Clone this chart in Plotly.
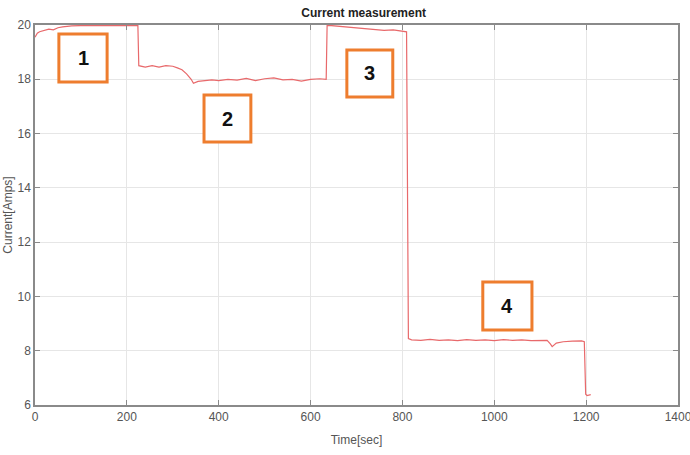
import plotly.graph_objects as go

# Measured current trace
time_sec = [0, 5, 10, 20, 30, 40, 50, 60, 70, 80, 100, 150, 224, 226, 240, 255, 270, 285,
            300, 310, 320, 330, 340, 345, 355, 370, 385, 400, 420, 440, 460, 480, 500,
            520, 540, 560, 580, 600, 620, 634, 636, 645, 660, 680, 700, 720, 740, 760,
            780, 800, 809, 813, 820, 840, 860, 880, 900, 920, 940, 960, 980, 1000, 1020,
            1040, 1060, 1080, 1100, 1115, 1122, 1126, 1135, 1150, 1170, 1190, 1196,
            1199, 1202, 1210]
current_amps = [19.55, 19.7, 19.75, 19.8, 19.85, 19.82, 19.9, 19.93, 19.96, 19.97, 19.98,
                19.98, 19.98, 18.5, 18.45, 18.5, 18.45, 18.5, 18.48, 18.42, 18.35, 18.2,
                18.0, 17.85, 17.92, 17.95, 17.98, 17.95, 18.0, 17.97, 18.03, 17.95, 18.02,
                18.05, 17.98, 18.0, 17.93, 18.0, 18.02, 18.0, 19.98, 19.98, 19.96, 19.92,
                19.9, 19.87, 19.85, 19.8, 19.82, 19.76, 19.75, 8.45, 8.4, 8.38, 8.42, 8.38,
                8.4, 8.37, 8.41, 8.38, 8.4, 8.37, 8.41, 8.38, 8.4, 8.37, 8.39, 8.38, 8.25,
                8.15, 8.28, 8.33, 8.35, 8.36, 8.33, 6.4, 6.35, 6.38]

# Numbered stage markers: label, x range, y range
stage_labels = ["1", "2", "3", "4"]
stage_x0 = [52, 368, 679, 975]
stage_x1 = [157, 470, 779, 1082]
stage_y0 = [17.9, 15.69, 17.35, 8.76]
stage_y1 = [19.67, 17.42, 19.08, 10.53]

fig = go.Figure()
fig.add_trace(go.Scatter(x=time_sec, y=current_amps, mode="lines",
                         line=dict(color="#e8696b", width=1.2), showlegend=False))

for lab, x0, x1, y0, y1 in zip(stage_labels, stage_x0, stage_x1, stage_y0, stage_y1):
    fig.add_shape(type="rect", x0=x0, x1=x1, y0=y0, y1=y1, xref="x", yref="y",
                  line=dict(color="#ee7d2e", width=3), fillcolor="white", layer="above")
    fig.add_annotation(x=(x0 + x1) / 2, y=(y0 + y1) / 2, text="<b>" + lab + "</b>",
                       showarrow=False, font=dict(family="Liberation Sans, Arial", size=20,
                                                  color="#111111"))

font_family = "Liberation Sans Narrow, Liberation Sans, Arial"
axis_common = dict(showline=True, linecolor="#8a8a8a", linewidth=1.5, mirror="ticks",
                   ticks="inside", ticklen=5, tickcolor="#8a8a8a", showgrid=True,
                   gridcolor="#e6e6e6", gridwidth=1, zeroline=False, automargin=False,
                   ticklabeloverflow="allow",
                   tickfont=dict(family=font_family, size=12, color="#555555"))

fig.update_xaxes(range=[0, 1400], tickvals=[0, 200, 400, 600, 800, 1000, 1200, 1400],
                 title=dict(text="Time[sec]", standoff=12,
                            font=dict(family=font_family, size=12, color="#555555")),
                 **axis_common)
fig.update_yaxes(range=[6, 20], tickvals=[6, 8, 10, 12, 14, 16, 18, 20],
                 title=dict(text="Current[Amps]", standoff=2,
                            font=dict(family=font_family, size=12, color="#555555")),
                 **axis_common)

fig.update_layout(
    width=690, height=455,
    margin=dict(l=35, r=12, t=25, b=50),
    paper_bgcolor="white", plot_bgcolor="white",
    title=dict(text="<b>Current measurement</b>", x=0.527, xanchor="center", y=0.972,
               yanchor="middle",
               font=dict(family=font_family, size=12, color="#222222")),
)

fig.write_html("out.html")
